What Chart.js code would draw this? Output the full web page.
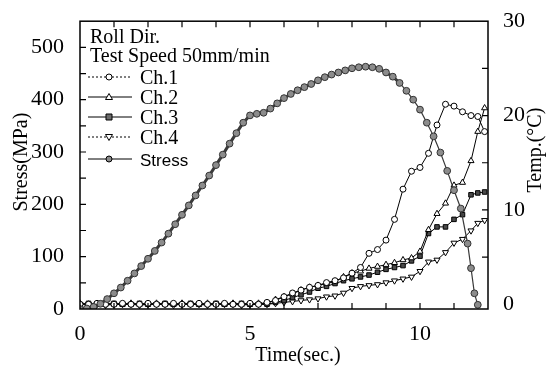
<!DOCTYPE html>
<html>
<head>
<meta charset="utf-8">
<script src="https://cdn.jsdelivr.net/npm/chart.js@4/dist/chart.umd.min.js"></script>
<style>
html, body { margin: 0; padding: 0; background: #fff; }
#wrap { width: 555px; height: 369px; }
</style>
</head>
<body>
<div id="wrap"><canvas id="chart" width="555" height="369"></canvas></div>
<script>
// values

// stress curve (sec., MPa)
var stressTime = [0, 0.2, 0.4, 0.6, 0.8, 1.0, 1.2, 1.4, 1.6, 1.8, 2.0, 2.2, 2.4, 2.6, 2.8, 3.0,
  3.2, 3.4, 3.6, 3.8, 4.0, 4.2, 4.4, 4.6, 4.8, 5.0, 5.2, 5.4, 5.6, 5.8, 6.0, 6.2, 6.4, 6.6,
  6.8, 7.0, 7.2, 7.4, 7.6, 7.8, 8.0, 8.2, 8.4, 8.6, 8.8, 9.0, 9.2, 9.4, 9.6, 9.8, 10.0, 10.2,
  10.4, 10.6, 10.8, 11.0, 11.2, 11.4, 11.5, 11.6, 11.7];
var stressValues = [0, 1, 4, 10, 19, 30, 41, 54, 68, 82, 96, 111, 127, 144, 162, 180,
  198, 217, 236, 255, 275, 295, 316, 336, 356, 370, 373, 375, 383, 393, 403, 411, 418, 424,
  430, 437, 443, 448, 452, 456, 460, 462, 463, 462, 459, 452, 444, 432, 417, 400, 381, 356,
  330, 299, 264, 227, 192, 125, 78, 30, 8];

// temperatures (sec., deg C)
var tempTime = [0, 0.25, 0.5, 0.75, 1.0, 1.25, 1.5, 1.75, 2.0, 2.25, 2.5, 2.75, 3.0, 3.25,
  3.5, 3.75, 4.0, 4.25, 4.5, 4.75, 5.0, 5.25, 5.5, 5.75, 6.0, 6.25, 6.5, 6.75, 7.0, 7.25,
  7.5, 7.75, 8.0, 8.25, 8.5, 8.75, 9.0, 9.25, 9.5, 9.75, 10.0, 10.25, 10.5, 10.75, 11.0,
  11.25, 11.5, 11.7, 11.9];
var ch1 = [0, 0, 0.1, 0, 0, 0.1, 0, 0, 0.1, 0, 0, 0.1, 0, 0, 0.1, 0, 0, 0.1, 0, 0, 0.1, 0,
  0.2, 0.4, 0.8, 1.2, 1.5, 1.8, 2.0, 2.3, 2.5, 2.8, 3.3, 3.9, 5.4, 5.8, 6.8, 9.0, 12.2, 14.1,
  14.5, 16.0, 19.0, 21.2, 21.0, 20.4, 20.0, 19.9, 18.3];
var ch2 = [0.1, 0, 0, 0.1, 0, 0, 0.1, 0, 0, 0.1, 0, 0, 0.1, 0, 0, 0.1, 0, 0, 0.1, 0, 0, 0.1,
  0.1, 0.5, 0.8, 1.1, 1.5, 1.8, 2.0, 2.2, 2.4, 2.9, 3.3, 3.5, 3.8, 4.0, 4.2, 4.4, 4.7, 4.9,
  5.6, 7.9, 9.6, 10.7, 12.6, 12.9, 15.2, 18.3, 20.8];
var ch3 = [0, 0.1, 0, 0, 0.1, 0, 0, 0.1, 0, 0, 0.1, 0, 0, 0.1, 0, 0, 0.1, 0, 0, 0.1, 0, 0,
  0, 0.2, 0.4, 0.7, 1.0, 1.3, 1.7, 1.9, 2.2, 2.5, 2.7, 2.9, 3.1, 3.4, 3.7, 3.9, 4.1, 4.6,
  5.1, 7.5, 8.2, 8.2, 9.0, 9.5, 11.6, 11.8, 11.9];
var ch4 = [0, 0, 0, -0.1, 0, 0, 0, -0.1, 0, 0, 0, -0.1, 0, 0, 0, -0.1, 0, 0, 0, -0.1, 0, 0,
  0, 0.1, 0.2, 0.3, 0.4, 0.5, 0.6, 0.8, 0.9, 1.2, 1.7, 1.9, 2.0, 2.1, 2.3, 2.5, 2.7, 2.9,
  3.5, 4.5, 4.7, 5.5, 6.5, 6.9, 7.8, 8.6, 8.9];

// tick labels and tick marks
var timeTicks = [0, 5, 10];
var timeMinor = [1, 2, 3, 4, 5, 6, 7, 8, 9, 10, 11];
var stressTicks = [0, 100, 200, 300, 400, 500];
var stressMinor = [50, 100, 150, 200, 250, 300, 350, 400, 450, 500];
var tempTicks = [0, 10, 20, 30];
var tempMinor = [5, 10, 15, 20, 25];

var headerLines = ['Roll Dir.', 'Test Speed 50mm/min'];
var seriesNames = ['Ch.1', 'Ch.2', 'Ch.3', 'Ch.4', 'Stress'];
var axisTitles = ['Time(sec.)', 'Stress(MPa)', 'Temp.(°C)'];

var serif = "'Liberation Serif', 'Times New Roman', serif";

function pairUp(xs, ys) {
  var out = [];
  for (var i = 0; i < xs.length; i++) out.push({x: xs[i], y: ys[i]});
  return out;
}

function setTicks(list) {
  return function(scale) {
    scale.ticks = list.map(function(v) { return {value: v}; });
  };
}

// draw one marker, used for the legend samples
function drawMarker(ctx, kind, x, y, fill) {
  ctx.beginPath();
  if (kind == 'circle') {
    ctx.arc(x, y, 3, 0, Math.PI * 2);
  } else if (kind == 'up') {
    ctx.moveTo(x, y - 3.5); ctx.lineTo(x + 3.5, y + 2.5); ctx.lineTo(x - 3.5, y + 2.5); ctx.closePath();
  } else if (kind == 'down') {
    ctx.moveTo(x, y + 3.5); ctx.lineTo(x + 3.5, y - 2.5); ctx.lineTo(x - 3.5, y - 2.5); ctx.closePath();
  } else {
    ctx.rect(x - 3, y - 3, 6, 6);
  }
  ctx.fillStyle = fill;
  ctx.fill();
  ctx.lineWidth = 1;
  ctx.strokeStyle = '#000';
  ctx.stroke();
}

var frameAndLegend = {
  id: 'frameAndLegend',
  afterDraw: function(chart) {
    var ctx = chart.ctx;
    var a = chart.chartArea;
    var sx = chart.scales.x, ys = chart.scales.yS, yt = chart.scales.yT;
    ctx.save();
    ctx.strokeStyle = '#000';
    ctx.lineWidth = 1.5;
    ctx.strokeRect(a.left, a.top, a.right - a.left, a.bottom - a.top);
    ctx.lineWidth = 1.2;
    ctx.beginPath();
    timeMinor.forEach(function(v) {
      var px = sx.getPixelForValue(v);
      ctx.moveTo(px, a.bottom); ctx.lineTo(px, a.bottom - 6);
      ctx.moveTo(px, a.top); ctx.lineTo(px, a.top + 6);
    });
    stressMinor.forEach(function(v) {
      var py = ys.getPixelForValue(v);
      ctx.moveTo(a.left, py); ctx.lineTo(a.left + 6, py);
    });
    tempMinor.forEach(function(v) {
      var py = yt.getPixelForValue(v);
      ctx.moveTo(a.right, py); ctx.lineTo(a.right - 6, py);
    });
    ctx.stroke();

    // axis titles (both vertical ones read bottom to top)
    ctx.fillStyle = '#000';
    ctx.font = '20px ' + serif;
    ctx.textAlign = 'center';
    ctx.textBaseline = 'middle';
    ctx.fillText(axisTitles[0], (a.left + a.right) / 2 + 14, 356);
    ctx.save();
    ctx.translate(22, (a.top + a.bottom) / 2 - 3);
    ctx.rotate(-Math.PI / 2);
    ctx.fillText(axisTitles[1], 0, 0);
    ctx.restore();
    ctx.save();
    ctx.translate(536, (a.top + a.bottom) / 2 - 15);
    ctx.rotate(-Math.PI / 2);
    ctx.fillText(axisTitles[2], 0, 0);
    ctx.restore();

    // header and legend inside the plot
    ctx.textBaseline = 'alphabetic';
    ctx.textAlign = 'left';
    ctx.fillText(headerLines[0], a.left + 10, 43);
    ctx.fillText(headerLines[1], a.left + 10, 62);

    var kinds = ['circle', 'up', 'rect', 'down', 'circle'];
    var fills = ['#fff', '#fff', '#6a6a6a', '#fff', '#8a8a8a'];
    var dashed = [true, false, false, true, false];
    var rowY = [77, 97, 117, 137, 159];
    for (var i = 0; i < seriesNames.length; i++) {
      var y = rowY[i];
      ctx.beginPath();
      ctx.setLineDash(dashed[i] ? [2, 2] : []);
      ctx.lineWidth = 1;
      ctx.strokeStyle = '#000';
      ctx.moveTo(a.left + 8, y); ctx.lineTo(a.left + 52, y);
      ctx.stroke();
      ctx.setLineDash([]);
      drawMarker(ctx, kinds[i], a.left + 29, y, fills[i]);
      ctx.fillStyle = '#000';
      if (i == 4) {
        ctx.font = "17px 'Liberation Sans', Arial, sans-serif";
      } else {
        ctx.font = '20px ' + serif;
      }
      ctx.fillText(seriesNames[i], a.left + 60, y + 7);
    }
    ctx.restore();
  }
};

var ctx = document.getElementById('chart').getContext('2d');
var myChart = new Chart(ctx, {
  type: 'line',
  data: {
    datasets: [{
      label: 'Stress',
      yAxisID: 'yS',
      data: pairUp(stressTime, stressValues),
      borderColor: '#3a3a3a',
      borderWidth: 3,
      // thinner line once the markers spread apart after the peak
      segment: {
        borderWidth: function(c) { return c.p0.parsed.x >= 9.4 ? 1.2 : 3; }
      },
      pointStyle: 'circle',
      pointRadius: 3.4,
      pointBackgroundColor: '#8c8c8c',
      pointBorderColor: '#333',
      pointBorderWidth: 1
    }, {
      label: 'Ch.1',
      yAxisID: 'yT',
      data: pairUp(tempTime, ch1),
      borderColor: '#000',
      borderWidth: 1,
      pointStyle: 'circle',
      pointRadius: 3,
      pointBackgroundColor: '#fff',
      pointBorderColor: '#000',
      pointBorderWidth: 1
    }, {
      label: 'Ch.2',
      yAxisID: 'yT',
      data: pairUp(tempTime, ch2),
      borderColor: '#000',
      borderWidth: 1,
      pointStyle: 'triangle',
      pointRadius: 3.5,
      pointBackgroundColor: '#fff',
      pointBorderColor: '#000',
      pointBorderWidth: 1
    }, {
      label: 'Ch.3',
      yAxisID: 'yT',
      data: pairUp(tempTime, ch3),
      borderColor: '#000',
      borderWidth: 1,
      pointStyle: 'rect',
      pointRadius: 3.2,
      pointBackgroundColor: '#4a4a4a',
      pointBorderColor: '#000',
      pointBorderWidth: 1
    }, {
      label: 'Ch.4',
      yAxisID: 'yT',
      data: pairUp(tempTime, ch4),
      borderColor: '#000',
      borderWidth: 1,
      pointStyle: 'triangle',
      rotation: 180,
      pointRadius: 3.5,
      pointBackgroundColor: '#fff',
      pointBorderColor: '#000',
      pointBorderWidth: 1
    }]
  },
  options: {
    responsive: false,
    animation: false,
    devicePixelRatio: 1,
    layout: { padding: { top: 18, left: 0, right: 0, bottom: 0 } },
    plugins: { legend: { display: false }, tooltip: { enabled: false } },
    scales: {
      x: {
        type: 'linear',
        position: 'bottom',
        min: 0,
        max: 12,
        afterBuildTicks: setTicks(timeTicks),
        afterFit: function(s) { s.height = 60; },
        grid: { display: false },
        border: { display: false },
        ticks: { autoSkip: false, maxRotation: 0, padding: 4, color: '#000', font: { family: serif, size: 22 } }
      },
      yS: {
        type: 'linear',
        position: 'left',
        min: 0,
        max: 550,
        afterBuildTicks: setTicks(stressTicks),
        afterFit: function(s) { s.width = 80; },
        grid: { display: false },
        border: { display: false },
        ticks: { autoSkip: false, padding: 8, color: '#000', font: { family: serif, size: 22 } }
      },
      yT: {
        type: 'linear',
        position: 'right',
        min: -0.5,
        max: 30,
        afterBuildTicks: setTicks(tempTicks),
        afterFit: function(s) { s.width = 67; },
        grid: { display: false },
        border: { display: false },
        ticks: { autoSkip: false, padding: 7, color: '#000', font: { family: serif, size: 22 } }
      }
    }
  },
  plugins: [frameAndLegend]
});
</script>
</body>
</html>
